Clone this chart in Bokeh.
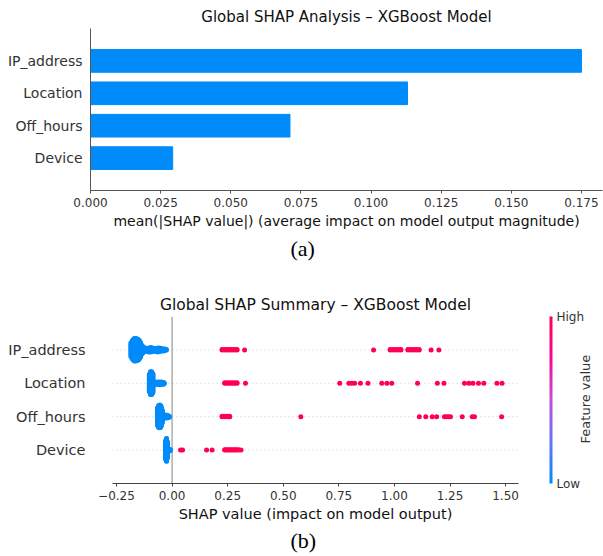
import math
import numpy as np
from bokeh.plotting import figure
from bokeh.models import (Range1d, FixedTicker, CustomJSTickFormatter, Span, Title,
                          ColorBar, LinearColorMapper, LinearAxis)
from bokeh.embed import file_html
from bokeh.resources import INLINE

FONT = "DejaVu Sans"
SERIF = "Liberation Serif"

# ---------------- data ----------------
features = ["IP_address", "Location", "Off_hours", "Device"]          # top -> bottom
mean_abs_shap = [0.175, 0.113, 0.0711, 0.0293]
bar_ticks = [0.0, 0.025, 0.05, 0.075, 0.1, 0.125, 0.15, 0.175]
swarm_ticks = [-0.25, 0.0, 0.25, 0.5, 0.75, 1.0, 1.25, 1.5]
cbar_ticks = [0, 1]
cbar_labels = ["Low", "High"]

# low feature value (blue) SHAP values and how many samples sit at each value
ip_low_vals = [-0.184, -0.177, -0.170, -0.163, -0.156, -0.149, -0.142, -0.135, -0.128,
               -0.120, -0.112, -0.104, -0.096, -0.088, -0.080, -0.072, -0.064, -0.056,
               -0.048, -0.040, -0.032, -0.026]
ip_low_counts = [30, 40, 46, 46, 44, 40, 30, 18, 10,
                 8, 7, 9, 10, 8, 6, 7, 9, 8, 6, 5, 4, 2]
loc_low_vals = [-0.102, -0.097, -0.092, -0.087, -0.080, -0.072, -0.064, -0.056, -0.048,
                -0.040, -0.036]
loc_low_counts = [40, 52, 52, 44, 8, 5, 6, 7, 6, 5, 3]
off_low_vals = [-0.065, -0.060, -0.055, -0.050, -0.045, -0.038, -0.031, -0.024, -0.018, -0.013]
off_low_counts = [40, 50, 52, 48, 30, 7, 8, 7, 5, 3]
dev_low_vals = [-0.028, -0.025, -0.022, -0.017, -0.012, -0.008]
dev_low_counts = [50, 60, 44, 6, 5, 3]

# high feature value (red)
ip_high_vals = [0.225, 0.236, 0.247, 0.258, 0.269, 0.280, 0.292, 0.326, 0.906, 0.981, 0.993,
                1.005, 1.017, 1.029, 1.061, 1.073, 1.085, 1.098, 1.111, 1.165, 1.200]
ip_high_counts = [2, 2, 2, 2, 2, 2, 2, 1, 1, 2, 2, 2, 2, 2, 2, 2, 2, 2, 2, 1, 1]
loc_high_vals = [0.237, 0.248, 0.259, 0.270, 0.281, 0.292, 0.330, 0.754, 0.795, 0.808, 0.821,
                 0.847, 0.881, 0.943, 0.966, 0.988, 1.104, 1.193, 1.223, 1.315, 1.335, 1.353,
                 1.378, 1.402, 1.461, 1.484]
loc_high_counts = [2, 2, 2, 2, 2, 2, 1, 1, 1, 1, 1, 1, 1, 1, 1, 1, 1, 1, 1, 1, 1, 1, 1, 1, 1, 1]
off_high_vals = [0.225, 0.236, 0.247, 0.259, 0.579, 1.112, 1.141, 1.170, 1.190, 1.225, 1.234,
                 1.243, 1.252, 1.305, 1.350, 1.360, 1.482]
off_high_counts = [2, 2, 2, 2, 1, 1, 1, 1, 1, 1, 1, 1, 1, 1, 1, 1, 1]
dev_high_vals = [0.038, 0.047, 0.155, 0.180, 0.237, 0.247, 0.257, 0.267, 0.277, 0.287, 0.298, 0.310]
dev_high_counts = [1, 1, 1, 1, 2, 2, 2, 2, 2, 2, 2, 1]

low_data = [(ip_low_vals, ip_low_counts), (loc_low_vals, loc_low_counts),
            (off_low_vals, off_low_counts), (dev_low_vals, dev_low_counts)]
high_data = [(ip_high_vals, ip_high_counts), (loc_high_vals, loc_high_counts),
             (off_high_vals, off_high_counts), (dev_high_vals, dev_high_counts)]

# ---------------- colour map (SHAP red_blue) ----------------
stops = [(0, 139, 251), (99, 116, 248), (195, 79, 212), (246, 7, 152), (255, 0, 82)]
palette = []
for i in range(256):
    t = i / 255 * (len(stops) - 1)
    k = min(int(t), len(stops) - 2)
    f = t - k
    c = [round(stops[k][j] + (stops[k + 1][j] - stops[k][j]) * f) for j in range(3)]
    palette.append("#%02x%02x%02x" % tuple(c))
LOW_C, HIGH_C = palette[0], palette[-1]

n = len(features)
pos = [n - 1 - i for i in range(n)]
label_map = {p: f for p, f in zip(pos, features)}


def style_common(p):
    p.outline_line_color = None
    p.grid.visible = False
    p.background_fill_color = "white"
    p.border_fill_color = "white"
    for ax in (p.xaxis, p.yaxis):
        ax.major_label_text_font = FONT
        ax.axis_label_text_font = FONT
        ax.axis_label_text_font_style = "normal"
        ax.major_label_text_color = "#333333"
        ax.axis_label_text_color = "#111111"
        ax.minor_tick_line_color = None
        ax.major_tick_in = 0
    p.title.text_font = FONT
    p.title.text_font_style = "normal"
    p.title.align = "center"
    p.title.text_color = "#111111"


def caption(text, offset, standoff):
    return Title(text=text, align="left", offset=offset, text_font=SERIF,
                 text_font_size="22px", text_font_style="normal", text_color="black",
                 standoff=standoff)


# ---------------- (a) bar plot ----------------
pa = figure(width=603, height=270, x_range=Range1d(0, 0.1825), y_range=Range1d(-1, 4),
            output_backend="svg", toolbar_location=None,
            title="Global SHAP Analysis \u2013 XGBoost Model",
            min_border_left=90, min_border_right=1, min_border_top=28, min_border_bottom=80)
style_common(pa)
pa.title.text_font_size = "15px"
pa.title.standoff = 6
pa.hbar(y=pos, left=0, right=mean_abs_shap, height=0.7, color="#008bfb")
pa.yaxis.ticker = FixedTicker(ticks=pos)
pa.yaxis.major_label_overrides = label_map
pa.yaxis.major_label_text_font_size = "14px"
pa.yaxis.major_tick_out = 0
pa.yaxis.major_label_standoff = 8
pa.yaxis.axis_line_color = "#555555"
pa.xaxis.ticker = FixedTicker(ticks=bar_ticks)
pa.xaxis.formatter = CustomJSTickFormatter(code="return tick.toFixed(3)")
pa.xaxis.major_label_text_font_size = "12px"
pa.xaxis.major_tick_out = 3
pa.xaxis.major_label_standoff = 4
pa.xaxis.axis_line_color = "#555555"
pa.xaxis.major_tick_line_color = "#555555"
pa.xaxis.axis_label = "mean(|SHAP value|) (average impact on model output magnitude)"
pa.xaxis.axis_label_text_font_size = "14px"
pa.xaxis.axis_label_standoff = 3
pa.add_layout(caption("(a)", 200, 5), "below")

# ---------------- (b) beeswarm ----------------
pb = figure(width=603, height=286, x_range=Range1d(-0.268, 1.558), y_range=Range1d(-1, 4),
            output_backend="svg", toolbar_location=None,
            title="Global SHAP Summary \u2013 XGBoost Model",
            min_border_left=112, min_border_right=79, min_border_top=46, min_border_bottom=73)
style_common(pb)
pb.title.text_font_size = "15.5px"
pb.title.standoff = 6

for p in pos:
    pb.add_layout(Span(location=p, dimension="width", line_color="#cccccc", line_width=1,
                       line_dash="1 3", level="underlay"))
pb.add_layout(Span(location=0, dimension="height", line_color="#999999", line_width=1.2,
                   level="underlay"))

xs, ys, cs = [], [], []
for p, (lv, lc), (hv, hc) in zip(pos, low_data, high_data):
    fx, fy, fc = [], [], []
    for vals, cnts, col in ((lv, lc, LOW_C), (hv, hc, HIGH_C)):
        for v, cnt in zip(vals, cnts):
            for layer in range(cnt):
                fx.append(v)
                fy.append(math.ceil(layer / 2) * ((layer % 2) * 2 - 1))
                fc.append(col)
    fy = np.array(fy, dtype=float)
    fy *= 0.9 * (0.4 / np.max(fy + 1))
    xs += fx
    ys += list(p + fy)
    cs += fc
pb.scatter(x=xs, y=ys, size=5, fill_color=cs, line_color=None)

pb.yaxis.ticker = FixedTicker(ticks=pos)
pb.yaxis.major_label_overrides = label_map
pb.yaxis.major_label_text_font_size = "14.5px"
pb.yaxis.major_tick_out = 0
pb.yaxis.major_label_standoff = 27
pb.yaxis.axis_line_color = None
pb.xaxis.ticker = FixedTicker(ticks=swarm_ticks)
pb.xaxis.formatter = CustomJSTickFormatter(code="return tick.toFixed(2).replace('-', '\\u2212')")
pb.xaxis.major_label_text_font_size = "12px"
pb.xaxis.major_tick_out = 3
pb.xaxis.major_label_standoff = 4
pb.xaxis.axis_line_color = "#444444"
pb.xaxis.major_tick_line_color = "#444444"
pb.xaxis.axis_label = "SHAP value (impact on model output)"
pb.xaxis.axis_label_text_font_size = "14.5px"
pb.xaxis.axis_label_standoff = 3

mapper = LinearColorMapper(palette=palette, low=0, high=1)
cb = ColorBar(color_mapper=mapper, ticker=FixedTicker(ticks=cbar_ticks),
              major_label_overrides=dict(zip(cbar_ticks, cbar_labels)),
              width=3, height=167, location=(437, 0), padding=0, margin=0,
              bar_line_color=None, border_line_color=None, background_fill_alpha=0,
              major_tick_line_color=None, label_standoff=4,
              major_label_text_font=FONT, major_label_text_font_size="12px",
              major_label_text_color="#333333")
pb.add_layout(cb)

# "Feature value" colour-bar caption, as a rotated label on a bare right axis
fv_axis = LinearAxis(ticker=FixedTicker(ticks=[0.2]),
                     major_label_overrides={0.2: "Feature value"},
                     major_label_orientation=math.pi / 2,
                     axis_line_color=None, major_tick_line_color=None,
                     major_tick_out=0, major_tick_in=0, minor_tick_line_color=None,
                     major_label_standoff=67, major_label_text_font=FONT,
                     major_label_text_font_size="13px", major_label_text_color="#333333")
pb.add_layout(fv_axis, "right")
pb.add_layout(caption("(b)", 178, 3), "below")

open("out.html", "w").write(file_html([pa, pb], INLINE))
